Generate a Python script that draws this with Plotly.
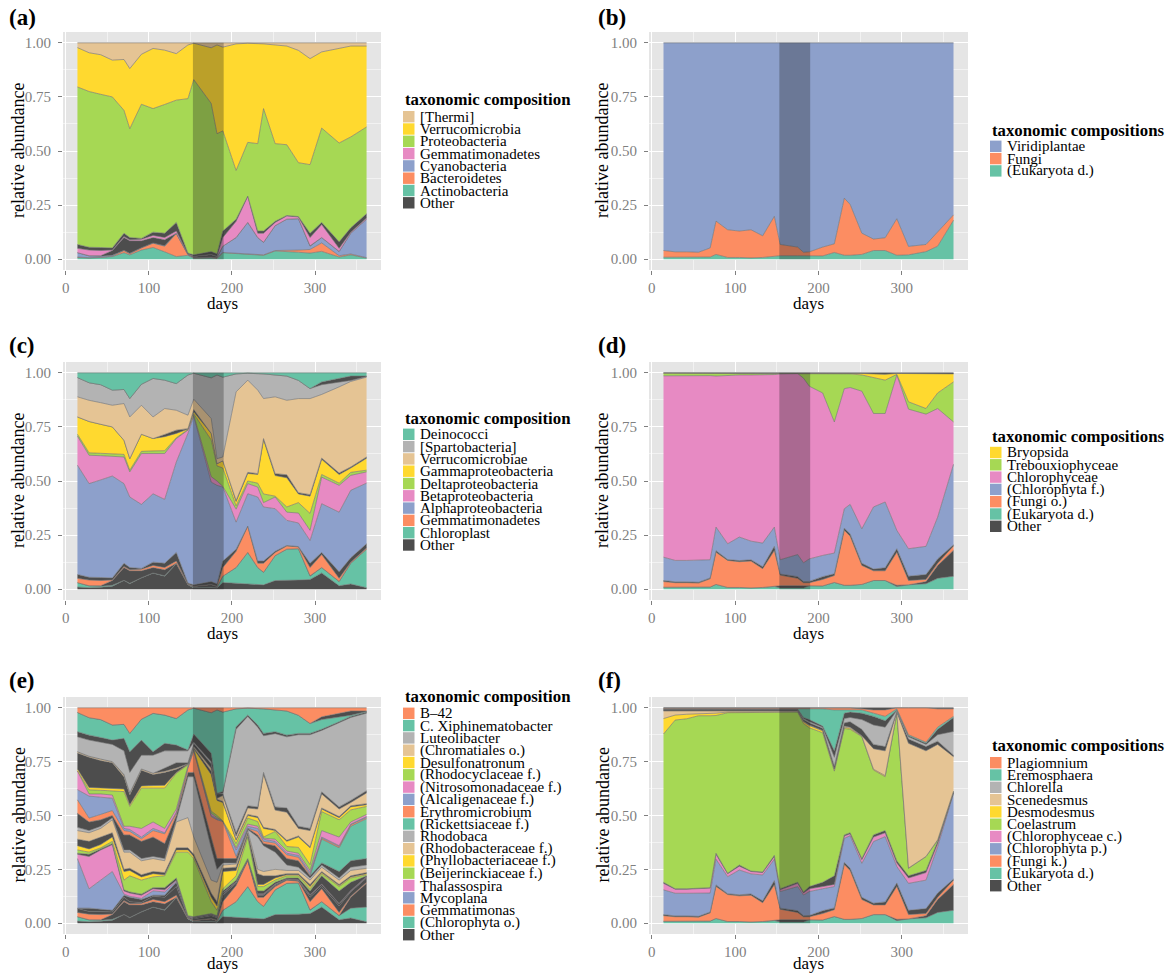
import numpy as np
import plotly.graph_objects as go

W, H = 1168, 974

# sampling days (x values)
DAYS = [14, 28, 42, 56, 70, 77, 91, 105, 119, 133, 147, 154, 175, 182, 189,
        205, 219, 231, 238, 252, 266, 280, 294, 308, 329, 343, 362]
SHADE_START, SHADE_END = 153, 190

TEAL = "#66C2A5"; ORANGE = "#FC8D62"; BLUE = "#8DA0CB"; PINK = "#E78AC3"
GREEN = "#A6D854"; YELLOW = "#FFD92F"; TAN = "#E5C494"; GREY = "#B3B3B3"
OTHER = "#4D4D4D"

# ---- every array below: upper edge of the stacked band (cumulative relative abundance) ----
TOP = [1.0, 1.0, 1.0, 1.0, 1.0, 1.0, 1.0, 1.0, 1.0, 1.0, 1.0, 1.0, 1.0, 1.0,
       1.0, 1.0, 1.0, 1.0, 1.0, 1.0, 1.0, 1.0, 1.0, 1.0, 1.0, 1.0, 1.0]

# (a) bacteria, phylum level
A_ACTINO = [0.008, 0.005, 0.008, 0.012, 0.030, 0.020, 0.042, 0.054, 0.034, 0.012, 0.018, 0.004, 0.005, 0.003, 0.030, 0.026, 0.022, 0.018, 0.018, 0.038, 0.036, 0.032, 0.028, 0.036, 0.010, 0.020, 0.005]
A_BACTER = [0.010, 0.007, 0.009, 0.014, 0.040, 0.025, 0.052, 0.074, 0.060, 0.118, 0.020, 0.006, 0.008, 0.005, 0.031, 0.028, 0.024, 0.020, 0.020, 0.040, 0.040, 0.042, 0.045, 0.075, 0.016, 0.024, 0.007]
A_CYANO = [0.030, 0.015, 0.014, 0.018, 0.041, 0.027, 0.053, 0.075, 0.062, 0.120, 0.022, 0.008, 0.010, 0.007, 0.060, 0.100, 0.170, 0.100, 0.078, 0.155, 0.185, 0.187, 0.060, 0.100, 0.035, 0.120, 0.185]
A_OTH_LO = [0.030, 0.016, 0.016, 0.040, 0.100, 0.085, 0.085, 0.100, 0.090, 0.120, 0.022, 0.012, 0.020, 0.012, 0.060, 0.100, 0.170, 0.100, 0.078, 0.155, 0.185, 0.187, 0.062, 0.100, 0.036, 0.120, 0.185]
A_GEMMA = [0.050, 0.042, 0.040, 0.043, 0.105, 0.090, 0.092, 0.110, 0.100, 0.130, 0.024, 0.014, 0.022, 0.014, 0.100, 0.175, 0.290, 0.120, 0.120, 0.170, 0.200, 0.195, 0.100, 0.160, 0.050, 0.125, 0.190]
A_OTH_HI = [0.068, 0.055, 0.054, 0.052, 0.120, 0.100, 0.096, 0.125, 0.120, 0.170, 0.028, 0.020, 0.035, 0.025, 0.130, 0.185, 0.292, 0.130, 0.130, 0.175, 0.202, 0.197, 0.120, 0.170, 0.080, 0.145, 0.210]
A_PROTEO = [0.796, 0.775, 0.762, 0.750, 0.688, 0.603, 0.716, 0.696, 0.715, 0.735, 0.742, 0.830, 0.720, 0.580, 0.593, 0.410, 0.540, 0.534, 0.696, 0.534, 0.529, 0.446, 0.437, 0.606, 0.537, 0.565, 0.611]
A_VERRUCO = [0.978, 0.954, 0.945, 0.920, 0.923, 0.881, 0.947, 0.974, 0.966, 0.950, 0.990, 0.998, 0.977, 0.990, 0.980, 0.995, 0.998, 0.998, 0.995, 0.990, 0.985, 0.965, 0.927, 0.958, 0.975, 0.985, 0.985]

# (b) eukaryota, kingdom level
B_EUK = [0.009, 0.009, 0.009, 0.008, 0.010, 0.022, 0.008, 0.008, 0.006, 0.008, 0.015, 0.016, 0.016, 0.016, 0.016, 0.015, 0.031, 0.018, 0.018, 0.022, 0.040, 0.040, 0.018, 0.020, 0.035, 0.060, 0.180]
B_FUNGI = [0.040, 0.034, 0.034, 0.032, 0.052, 0.176, 0.136, 0.130, 0.136, 0.108, 0.198, 0.068, 0.056, 0.032, 0.034, 0.056, 0.071, 0.282, 0.253, 0.120, 0.093, 0.099, 0.187, 0.059, 0.068, 0.125, 0.205]

# (c) bacteria, class level
C_OTH_1 = [0.010, 0.007, 0.009, 0.014, 0.040, 0.025, 0.052, 0.074, 0.060, 0.118, 0.020, 0.006, 0.008, 0.005, 0.031, 0.028, 0.024, 0.020, 0.020, 0.040, 0.040, 0.042, 0.045, 0.075, 0.016, 0.024, 0.007]
C_CHLORO = [0.030, 0.015, 0.014, 0.018, 0.041, 0.027, 0.053, 0.075, 0.062, 0.120, 0.022, 0.008, 0.010, 0.007, 0.060, 0.100, 0.170, 0.100, 0.078, 0.155, 0.185, 0.187, 0.060, 0.100, 0.035, 0.120, 0.185]
C_OTH_2 = [0.030, 0.016, 0.016, 0.040, 0.100, 0.085, 0.085, 0.100, 0.090, 0.120, 0.022, 0.012, 0.020, 0.012, 0.060, 0.100, 0.170, 0.100, 0.078, 0.155, 0.185, 0.187, 0.062, 0.100, 0.036, 0.120, 0.185]
C_GEMMA = [0.050, 0.042, 0.040, 0.043, 0.105, 0.090, 0.092, 0.110, 0.100, 0.130, 0.024, 0.014, 0.022, 0.014, 0.100, 0.175, 0.290, 0.120, 0.120, 0.170, 0.200, 0.195, 0.100, 0.160, 0.050, 0.125, 0.190]
C_OTH_3 = [0.068, 0.055, 0.054, 0.052, 0.120, 0.100, 0.096, 0.125, 0.120, 0.170, 0.028, 0.020, 0.035, 0.025, 0.130, 0.185, 0.292, 0.130, 0.130, 0.175, 0.202, 0.197, 0.120, 0.170, 0.080, 0.145, 0.210]
C_ALPHA = [0.573, 0.488, 0.505, 0.523, 0.488, 0.426, 0.392, 0.441, 0.415, 0.588, 0.720, 0.800, 0.495, 0.480, 0.472, 0.310, 0.441, 0.426, 0.380, 0.372, 0.318, 0.306, 0.225, 0.395, 0.356, 0.457, 0.490]
C_BETA = [0.707, 0.619, 0.617, 0.615, 0.611, 0.542, 0.627, 0.627, 0.627, 0.696, 0.735, 0.805, 0.520, 0.500, 0.475, 0.370, 0.488, 0.472, 0.400, 0.426, 0.356, 0.352, 0.272, 0.518, 0.480, 0.526, 0.542]
C_DELTA = [0.716, 0.630, 0.628, 0.627, 0.623, 0.550, 0.637, 0.639, 0.640, 0.700, 0.738, 0.810, 0.690, 0.570, 0.560, 0.385, 0.500, 0.490, 0.440, 0.430, 0.380, 0.400, 0.350, 0.530, 0.490, 0.540, 0.550]
C_GAMMA = [0.796, 0.775, 0.762, 0.750, 0.688, 0.603, 0.716, 0.696, 0.705, 0.720, 0.740, 0.820, 0.720, 0.580, 0.593, 0.405, 0.535, 0.530, 0.690, 0.525, 0.515, 0.440, 0.430, 0.600, 0.530, 0.560, 0.605]
C_OTH_4 = [0.796, 0.775, 0.762, 0.750, 0.688, 0.603, 0.716, 0.696, 0.715, 0.735, 0.742, 0.830, 0.720, 0.580, 0.593, 0.410, 0.540, 0.534, 0.696, 0.534, 0.529, 0.446, 0.437, 0.606, 0.537, 0.565, 0.611]
C_VERRUCO = [0.889, 0.873, 0.862, 0.850, 0.858, 0.796, 0.850, 0.796, 0.835, 0.827, 0.804, 0.878, 0.789, 0.603, 0.611, 0.912, 0.966, 0.920, 0.881, 0.889, 0.873, 0.881, 0.881, 0.900, 0.935, 0.960, 0.980]
C_SPARTO = [0.978, 0.954, 0.945, 0.920, 0.923, 0.881, 0.947, 0.974, 0.966, 0.950, 0.990, 0.998, 0.977, 0.990, 0.980, 0.995, 0.998, 0.998, 0.995, 0.990, 0.985, 0.965, 0.927, 0.945, 0.955, 0.965, 0.983]
C_OTH_5 = [0.978, 0.954, 0.945, 0.920, 0.923, 0.881, 0.947, 0.974, 0.966, 0.950, 0.990, 0.998, 0.977, 0.990, 0.980, 0.995, 0.998, 0.998, 0.995, 0.990, 0.985, 0.965, 0.927, 0.958, 0.975, 0.985, 0.985]

# (d) eukaryota, class level
D_EUK = [0.009, 0.009, 0.009, 0.008, 0.010, 0.022, 0.008, 0.008, 0.006, 0.008, 0.012, 0.006, 0.006, 0.006, 0.016, 0.015, 0.031, 0.018, 0.018, 0.022, 0.040, 0.040, 0.012, 0.020, 0.025, 0.050, 0.060]
D_OTH_1 = [0.009, 0.009, 0.009, 0.008, 0.010, 0.022, 0.008, 0.008, 0.006, 0.008, 0.015, 0.016, 0.016, 0.016, 0.016, 0.015, 0.031, 0.018, 0.018, 0.022, 0.040, 0.040, 0.018, 0.020, 0.035, 0.110, 0.180]
D_FUNGI = [0.035, 0.030, 0.030, 0.028, 0.048, 0.171, 0.133, 0.127, 0.130, 0.095, 0.179, 0.065, 0.050, 0.030, 0.030, 0.045, 0.063, 0.272, 0.245, 0.110, 0.085, 0.085, 0.171, 0.040, 0.045, 0.120, 0.200]
D_OTH_2 = [0.040, 0.034, 0.034, 0.032, 0.052, 0.178, 0.137, 0.132, 0.136, 0.104, 0.198, 0.070, 0.058, 0.035, 0.036, 0.058, 0.071, 0.282, 0.255, 0.120, 0.093, 0.099, 0.187, 0.060, 0.068, 0.140, 0.205]
D_CHLOROPHYTA = [0.148, 0.133, 0.133, 0.133, 0.136, 0.287, 0.210, 0.241, 0.222, 0.213, 0.287, 0.136, 0.160, 0.122, 0.140, 0.156, 0.167, 0.372, 0.392, 0.279, 0.380, 0.403, 0.272, 0.187, 0.198, 0.333, 0.577]
D_CHLOROPHYCEAE = [0.986, 0.987, 0.987, 0.987, 0.987, 0.985, 0.988, 0.990, 0.990, 0.990, 0.992, 0.995, 0.997, 0.975, 0.938, 0.907, 0.773, 0.927, 0.932, 0.915, 0.812, 0.812, 0.990, 0.832, 0.809, 0.835, 0.773]
D_TREBOUX = [0.998, 0.998, 0.998, 0.998, 0.998, 0.997, 0.998, 0.998, 0.998, 0.998, 0.998, 0.998, 0.998, 0.998, 0.998, 0.998, 0.998, 0.998, 0.995, 0.990, 0.977, 0.966, 0.993, 0.866, 0.835, 0.907, 0.958]
D_BRYO = [0.999, 0.999, 0.999, 0.999, 0.999, 0.998, 0.999, 0.999, 0.999, 0.999, 0.999, 0.999, 0.999, 0.999, 0.999, 0.999, 0.999, 0.999, 0.997, 0.997, 0.995, 0.993, 0.997, 0.997, 0.997, 0.998, 0.995]

# (e) bacteria, genus level
E_OTH_1 = [0.010, 0.007, 0.009, 0.014, 0.040, 0.025, 0.052, 0.074, 0.060, 0.118, 0.020, 0.006, 0.008, 0.005, 0.031, 0.028, 0.024, 0.020, 0.020, 0.040, 0.040, 0.042, 0.045, 0.075, 0.016, 0.024, 0.007]
E_CHLOROPHYTA = [0.030, 0.015, 0.014, 0.018, 0.041, 0.027, 0.053, 0.075, 0.062, 0.120, 0.022, 0.008, 0.010, 0.007, 0.060, 0.100, 0.170, 0.100, 0.078, 0.155, 0.185, 0.187, 0.060, 0.100, 0.035, 0.070, 0.075]
E_OTH_2 = [0.030, 0.016, 0.016, 0.040, 0.100, 0.085, 0.085, 0.100, 0.090, 0.120, 0.022, 0.012, 0.020, 0.012, 0.060, 0.100, 0.170, 0.100, 0.078, 0.155, 0.185, 0.187, 0.062, 0.100, 0.036, 0.120, 0.185]
E_GEMMATIMONAS = [0.050, 0.042, 0.040, 0.043, 0.105, 0.090, 0.092, 0.110, 0.100, 0.130, 0.024, 0.014, 0.022, 0.014, 0.100, 0.175, 0.290, 0.120, 0.120, 0.170, 0.200, 0.195, 0.100, 0.160, 0.050, 0.125, 0.190]
E_OTH_3 = [0.068, 0.055, 0.054, 0.052, 0.120, 0.100, 0.096, 0.125, 0.120, 0.170, 0.028, 0.020, 0.035, 0.025, 0.130, 0.185, 0.292, 0.130, 0.130, 0.175, 0.202, 0.197, 0.120, 0.170, 0.080, 0.145, 0.210]
E_OTH_4 = [0.070, 0.070, 0.065, 0.060, 0.130, 0.120, 0.110, 0.130, 0.130, 0.190, 0.030, 0.025, 0.040, 0.030, 0.140, 0.190, 0.295, 0.135, 0.135, 0.180, 0.205, 0.200, 0.130, 0.180, 0.090, 0.150, 0.215]
E_MYCOPLANA = [0.300, 0.160, 0.200, 0.240, 0.135, 0.125, 0.115, 0.150, 0.145, 0.195, 0.030, 0.025, 0.040, 0.030, 0.140, 0.190, 0.295, 0.135, 0.135, 0.180, 0.205, 0.200, 0.130, 0.180, 0.090, 0.150, 0.215]
E_THALASSOSPIRA = [0.320, 0.310, 0.340, 0.365, 0.150, 0.140, 0.130, 0.160, 0.155, 0.200, 0.032, 0.027, 0.042, 0.032, 0.142, 0.192, 0.297, 0.137, 0.137, 0.182, 0.207, 0.202, 0.132, 0.182, 0.092, 0.152, 0.217]
E_OTH_5 = [0.325, 0.320, 0.345, 0.370, 0.155, 0.145, 0.135, 0.165, 0.165, 0.210, 0.035, 0.030, 0.045, 0.035, 0.150, 0.200, 0.300, 0.150, 0.150, 0.190, 0.210, 0.210, 0.150, 0.220, 0.150, 0.190, 0.220]
E_BEIJERINCK = [0.340, 0.330, 0.350, 0.380, 0.200, 0.220, 0.200, 0.215, 0.220, 0.330, 0.330, 0.300, 0.100, 0.060, 0.160, 0.220, 0.400, 0.170, 0.170, 0.200, 0.220, 0.220, 0.160, 0.230, 0.170, 0.210, 0.225]
E_PHYLLO = [0.360, 0.345, 0.365, 0.400, 0.240, 0.245, 0.215, 0.230, 0.225, 0.340, 0.340, 0.310, 0.120, 0.080, 0.240, 0.245, 0.410, 0.180, 0.180, 0.210, 0.225, 0.225, 0.170, 0.235, 0.175, 0.215, 0.230]
E_OTH_6 = [0.390, 0.380, 0.400, 0.420, 0.250, 0.255, 0.225, 0.240, 0.235, 0.350, 0.350, 0.320, 0.140, 0.100, 0.255, 0.260, 0.420, 0.230, 0.220, 0.220, 0.230, 0.230, 0.180, 0.240, 0.180, 0.220, 0.235]
E_RHODOBACTERACEAE = [0.430, 0.420, 0.440, 0.480, 0.330, 0.330, 0.290, 0.300, 0.290, 0.470, 0.490, 0.400, 0.200, 0.190, 0.270, 0.275, 0.430, 0.250, 0.240, 0.250, 0.245, 0.245, 0.200, 0.260, 0.200, 0.245, 0.255]
E_RHODOBACA = [0.445, 0.430, 0.450, 0.490, 0.340, 0.340, 0.300, 0.310, 0.300, 0.480, 0.680, 0.680, 0.350, 0.250, 0.280, 0.280, 0.435, 0.400, 0.360, 0.330, 0.270, 0.260, 0.210, 0.270, 0.210, 0.260, 0.270]
E_OTH_7 = [0.510, 0.470, 0.480, 0.500, 0.410, 0.410, 0.380, 0.400, 0.370, 0.500, 0.700, 0.700, 0.400, 0.300, 0.300, 0.300, 0.440, 0.410, 0.370, 0.360, 0.300, 0.290, 0.220, 0.280, 0.240, 0.290, 0.300]
E_RICKETTSIACEAE = [0.510, 0.470, 0.480, 0.500, 0.410, 0.410, 0.380, 0.400, 0.370, 0.500, 0.700, 0.700, 0.400, 0.300, 0.300, 0.300, 0.440, 0.410, 0.370, 0.360, 0.300, 0.290, 0.220, 0.390, 0.350, 0.450, 0.485]
E_ERYTHRO = [0.573, 0.488, 0.505, 0.523, 0.430, 0.426, 0.392, 0.430, 0.415, 0.510, 0.720, 0.800, 0.495, 0.480, 0.472, 0.310, 0.441, 0.426, 0.380, 0.372, 0.318, 0.306, 0.225, 0.395, 0.356, 0.457, 0.490]
E_ALCALI = [0.620, 0.590, 0.585, 0.580, 0.440, 0.435, 0.400, 0.440, 0.420, 0.515, 0.725, 0.805, 0.500, 0.485, 0.475, 0.340, 0.450, 0.440, 0.390, 0.380, 0.325, 0.315, 0.235, 0.400, 0.360, 0.460, 0.495]
E_NITROSO = [0.707, 0.600, 0.600, 0.595, 0.450, 0.450, 0.440, 0.470, 0.440, 0.530, 0.730, 0.807, 0.510, 0.490, 0.475, 0.350, 0.460, 0.450, 0.395, 0.390, 0.335, 0.325, 0.245, 0.430, 0.400, 0.470, 0.505]
E_RHODOCYC = [0.707, 0.619, 0.617, 0.615, 0.611, 0.542, 0.627, 0.627, 0.627, 0.696, 0.735, 0.810, 0.520, 0.500, 0.475, 0.370, 0.488, 0.472, 0.400, 0.426, 0.356, 0.352, 0.272, 0.518, 0.480, 0.526, 0.542]
E_DESULFO = [0.716, 0.630, 0.628, 0.627, 0.623, 0.550, 0.637, 0.639, 0.640, 0.700, 0.738, 0.810, 0.690, 0.570, 0.560, 0.385, 0.500, 0.490, 0.440, 0.430, 0.380, 0.400, 0.350, 0.530, 0.490, 0.540, 0.550]
E_OTH_8 = [0.790, 0.770, 0.755, 0.745, 0.680, 0.595, 0.710, 0.690, 0.700, 0.715, 0.739, 0.815, 0.705, 0.575, 0.565, 0.390, 0.505, 0.495, 0.445, 0.435, 0.385, 0.405, 0.355, 0.535, 0.495, 0.545, 0.555]
E_CHROMATIALES = [0.796, 0.775, 0.762, 0.750, 0.688, 0.603, 0.716, 0.696, 0.705, 0.720, 0.740, 0.820, 0.720, 0.580, 0.593, 0.405, 0.535, 0.530, 0.690, 0.525, 0.515, 0.440, 0.430, 0.600, 0.530, 0.560, 0.605]
E_OTH_9 = [0.796, 0.775, 0.762, 0.750, 0.690, 0.605, 0.716, 0.696, 0.720, 0.745, 0.745, 0.835, 0.740, 0.600, 0.600, 0.420, 0.545, 0.540, 0.700, 0.540, 0.535, 0.450, 0.440, 0.610, 0.540, 0.570, 0.615]
E_LUTEO = [0.865, 0.850, 0.840, 0.830, 0.800, 0.700, 0.780, 0.780, 0.800, 0.800, 0.800, 0.840, 0.750, 0.600, 0.605, 0.900, 0.960, 0.910, 0.870, 0.880, 0.865, 0.875, 0.875, 0.895, 0.930, 0.955, 0.975]
E_OTH_10 = [0.889, 0.873, 0.862, 0.850, 0.858, 0.796, 0.850, 0.796, 0.835, 0.827, 0.804, 0.878, 0.789, 0.603, 0.611, 0.912, 0.966, 0.920, 0.881, 0.889, 0.873, 0.881, 0.881, 0.900, 0.935, 0.960, 0.980]
E_XIPHI = [0.978, 0.954, 0.945, 0.920, 0.923, 0.881, 0.947, 0.974, 0.966, 0.950, 0.990, 0.998, 0.977, 0.990, 0.980, 0.995, 0.998, 0.998, 0.995, 0.990, 0.985, 0.965, 0.927, 0.945, 0.955, 0.965, 0.983]
E_OTH_11 = [0.978, 0.954, 0.945, 0.920, 0.923, 0.881, 0.947, 0.974, 0.966, 0.950, 0.990, 0.998, 0.977, 0.990, 0.980, 0.995, 0.998, 0.998, 0.995, 0.990, 0.985, 0.965, 0.927, 0.958, 0.975, 0.985, 0.985]

# (f) eukaryota, genus level
F_EUK = [0.009, 0.009, 0.009, 0.008, 0.010, 0.022, 0.008, 0.008, 0.006, 0.008, 0.012, 0.006, 0.006, 0.006, 0.016, 0.015, 0.031, 0.018, 0.018, 0.022, 0.040, 0.040, 0.012, 0.020, 0.025, 0.050, 0.060]
F_OTH_1 = [0.009, 0.009, 0.009, 0.008, 0.010, 0.022, 0.008, 0.008, 0.006, 0.008, 0.015, 0.016, 0.016, 0.016, 0.016, 0.015, 0.031, 0.018, 0.018, 0.022, 0.040, 0.040, 0.018, 0.020, 0.035, 0.110, 0.180]
F_FUNGI = [0.035, 0.030, 0.030, 0.028, 0.048, 0.171, 0.133, 0.127, 0.130, 0.095, 0.179, 0.065, 0.050, 0.030, 0.030, 0.045, 0.063, 0.272, 0.245, 0.110, 0.085, 0.085, 0.171, 0.040, 0.045, 0.120, 0.200]
F_OTH_2 = [0.040, 0.034, 0.034, 0.032, 0.052, 0.178, 0.137, 0.132, 0.136, 0.104, 0.198, 0.070, 0.058, 0.035, 0.036, 0.058, 0.071, 0.282, 0.255, 0.120, 0.093, 0.099, 0.187, 0.060, 0.068, 0.140, 0.205]
F_CHLOROPHYTA = [0.155, 0.139, 0.139, 0.140, 0.140, 0.297, 0.216, 0.247, 0.229, 0.224, 0.297, 0.147, 0.170, 0.131, 0.147, 0.160, 0.170, 0.394, 0.406, 0.278, 0.379, 0.402, 0.263, 0.185, 0.200, 0.355, 0.603]
F_CHLOROPHYCEAE = [0.185, 0.158, 0.158, 0.160, 0.163, 0.320, 0.230, 0.265, 0.240, 0.235, 0.310, 0.155, 0.185, 0.140, 0.160, 0.170, 0.180, 0.405, 0.415, 0.295, 0.400, 0.420, 0.280, 0.210, 0.235, 0.370, 0.605]
F_OTH_3 = [0.190, 0.160, 0.160, 0.162, 0.165, 0.325, 0.232, 0.270, 0.242, 0.238, 0.315, 0.160, 0.190, 0.145, 0.170, 0.190, 0.220, 0.410, 0.420, 0.300, 0.410, 0.430, 0.290, 0.220, 0.245, 0.380, 0.610]
F_COELASTRUM = [0.878, 0.943, 0.949, 0.963, 0.963, 0.964, 0.977, 0.978, 0.978, 0.978, 0.979, 0.980, 0.980, 0.927, 0.907, 0.884, 0.706, 0.904, 0.900, 0.866, 0.711, 0.680, 0.974, 0.255, 0.309, 0.386, 0.612]
F_DESMO = [0.950, 0.966, 0.970, 0.972, 0.972, 0.975, 0.980, 0.980, 0.980, 0.980, 0.982, 0.982, 0.982, 0.935, 0.917, 0.893, 0.715, 0.910, 0.905, 0.868, 0.715, 0.685, 0.975, 0.256, 0.310, 0.387, 0.613]
F_SCENED = [0.985, 0.985, 0.985, 0.985, 0.985, 0.985, 0.985, 0.985, 0.985, 0.985, 0.985, 0.985, 0.985, 0.937, 0.920, 0.895, 0.716, 0.915, 0.910, 0.870, 0.810, 0.800, 0.980, 0.835, 0.800, 0.830, 0.773]
F_OTH_4 = [0.990, 0.990, 0.990, 0.990, 0.990, 0.990, 0.990, 0.990, 0.990, 0.990, 0.990, 0.990, 0.990, 0.945, 0.930, 0.905, 0.730, 0.930, 0.935, 0.900, 0.830, 0.820, 0.983, 0.855, 0.820, 0.845, 0.780]
F_CHLORELLA = [0.991, 0.991, 0.991, 0.991, 0.991, 0.991, 0.991, 0.991, 0.991, 0.991, 0.991, 0.991, 0.991, 0.950, 0.935, 0.910, 0.770, 0.950, 0.955, 0.945, 0.920, 0.910, 0.988, 0.865, 0.830, 0.875, 0.890]
F_OTH_5 = [0.995, 0.995, 0.995, 0.995, 0.995, 0.995, 0.995, 0.995, 0.995, 0.995, 0.995, 0.995, 0.995, 0.955, 0.945, 0.915, 0.800, 0.975, 0.980, 0.975, 0.960, 0.940, 0.990, 0.870, 0.835, 0.900, 0.955]
F_EREMO = [0.997, 0.997, 0.997, 0.997, 0.997, 0.997, 0.997, 0.997, 0.997, 0.997, 0.997, 0.997, 0.998, 0.995, 0.995, 0.995, 0.990, 0.990, 0.990, 0.990, 0.975, 0.960, 0.995, 0.875, 0.840, 0.910, 0.960]
F_PLAGIO = [0.999, 0.999, 0.999, 0.999, 0.999, 0.999, 0.999, 0.999, 0.999, 0.999, 0.999, 0.999, 0.999, 0.999, 0.999, 0.999, 0.999, 0.999, 0.999, 0.995, 0.990, 0.990, 1.000, 1.000, 1.000, 0.995, 0.995]

# ---- panel definitions: layers bottom -> top, legend entries top -> bottom ----
PANELS = [
    dict(letter="(a)", col=0, row=0, title="taxonomic composition",
         layers=[(A_ACTINO, TEAL), (A_BACTER, ORANGE), (A_CYANO, BLUE), (A_OTH_LO, OTHER),
                 (A_GEMMA, PINK), (A_OTH_HI, OTHER), (A_PROTEO, GREEN), (A_VERRUCO, YELLOW), (TOP, TAN)],
         legend=[("[Thermi]", TAN), ("Verrucomicrobia", YELLOW), ("Proteobacteria", GREEN),
                 ("Gemmatimonadetes", PINK), ("Cyanobacteria", BLUE), ("Bacteroidetes", ORANGE),
                 ("Actinobacteria", TEAL), ("Other", OTHER)],
         leg_title_y=100, leg_first_y=116.7),
    dict(letter="(b)", col=1, row=0, title="taxonomic compositions",
         layers=[(B_EUK, TEAL), (B_FUNGI, ORANGE), (TOP, BLUE)],
         legend=[("Viridiplantae", BLUE), ("Fungi", ORANGE), ("(Eukaryota d.)", TEAL)],
         leg_title_y=130, leg_first_y=146.3),
    dict(letter="(c)", col=0, row=1, title="taxonomic composition",
         layers=[(C_OTH_1, OTHER), (C_CHLORO, TEAL), (C_OTH_2, OTHER), (C_GEMMA, ORANGE),
                 (C_OTH_3, OTHER), (C_ALPHA, BLUE), (C_BETA, PINK), (C_DELTA, GREEN),
                 (C_GAMMA, YELLOW), (C_OTH_4, OTHER), (C_VERRUCO, TAN), (C_SPARTO, GREY),
                 (C_OTH_5, OTHER), (TOP, TEAL)],
         legend=[("Deinococci", TEAL), ("[Spartobacteria]", GREY), ("Verrucomicrobiae", TAN),
                 ("Gammaproteobacteria", YELLOW), ("Deltaproteobacteria", GREEN),
                 ("Betaproteobacteria", PINK), ("Alphaproteobacteria", BLUE),
                 ("Gemmatimonadetes", ORANGE), ("Chloroplast", TEAL), ("Other", OTHER)],
         leg_title_y=418.3, leg_first_y=434.3),
    dict(letter="(d)", col=1, row=1, title="taxonomic compositions",
         layers=[(D_EUK, TEAL), (D_OTH_1, OTHER), (D_FUNGI, ORANGE), (D_OTH_2, OTHER),
                 (D_CHLOROPHYTA, BLUE), (D_CHLOROPHYCEAE, PINK), (D_TREBOUX, GREEN),
                 (D_BRYO, YELLOW), (TOP, OTHER)],
         legend=[("Bryopsida", YELLOW), ("Trebouxiophyceae", GREEN), ("Chlorophyceae", PINK),
                 ("(Chlorophyta f.)", BLUE), ("(Fungi o.)", ORANGE), ("(Eukaryota d.)", TEAL),
                 ("Other", OTHER)],
         leg_title_y=437, leg_first_y=452.5),
    dict(letter="(e)", col=0, row=2, title="taxonomic composition",
         layers=[(E_OTH_1, OTHER), (E_CHLOROPHYTA, TEAL), (E_OTH_2, OTHER), (E_GEMMATIMONAS, ORANGE),
                 (E_OTH_3, OTHER), (E_OTH_4, OTHER), (E_MYCOPLANA, BLUE), (E_THALASSOSPIRA, PINK),
                 (E_OTH_5, OTHER), (E_BEIJERINCK, GREEN), (E_PHYLLO, YELLOW), (E_OTH_6, OTHER),
                 (E_RHODOBACTERACEAE, TAN), (E_RHODOBACA, GREY), (E_OTH_7, OTHER),
                 (E_RICKETTSIACEAE, TEAL), (E_ERYTHRO, ORANGE), (E_ALCALI, BLUE), (E_NITROSO, PINK),
                 (E_RHODOCYC, GREEN), (E_DESULFO, YELLOW), (E_OTH_8, OTHER), (E_CHROMATIALES, TAN),
                 (E_OTH_9, OTHER), (E_LUTEO, GREY), (E_OTH_10, OTHER), (E_XIPHI, TEAL),
                 (E_OTH_11, OTHER), (TOP, ORANGE)],
         legend=[("B\u201342", ORANGE), ("C. Xiphinematobacter", TEAL), ("Luteolibacter", GREY),
                 ("(Chromatiales o.)", TAN), ("Desulfonatronum", YELLOW), ("(Rhodocyclaceae f.)", GREEN),
                 ("(Nitrosomonadaceae f.)", PINK), ("(Alcaligenaceae f.)", BLUE),
                 ("Erythromicrobium", ORANGE), ("(Rickettsiaceae f.)", TEAL), ("Rhodobaca", GREY),
                 ("(Rhodobacteraceae f.)", TAN), ("(Phyllobacteriaceae f.)", YELLOW),
                 ("(Beijerinckiaceae f.)", GREEN), ("Thalassospira", PINK), ("Mycoplana", BLUE),
                 ("Gemmatimonas", ORANGE), ("(Chlorophyta o.)", TEAL), ("Other", OTHER)],
         leg_title_y=696, leg_first_y=713.3),
    dict(letter="(f)", col=1, row=2, title="taxonomic compositions",
         layers=[(F_EUK, TEAL), (F_OTH_1, OTHER), (F_FUNGI, ORANGE), (F_OTH_2, OTHER),
                 (F_CHLOROPHYTA, BLUE), (F_CHLOROPHYCEAE, PINK), (F_OTH_3, OTHER),
                 (F_COELASTRUM, GREEN), (F_DESMO, YELLOW), (F_SCENED, TAN), (F_OTH_4, OTHER),
                 (F_CHLORELLA, GREY), (F_OTH_5, OTHER), (F_EREMO, TEAL), (F_PLAGIO, ORANGE),
                 (TOP, OTHER)],
         legend=[("Plagiomnium", ORANGE), ("Eremosphaera", TEAL), ("Chlorella", GREY),
                 ("Scenedesmus", TAN), ("Desmodesmus", YELLOW), ("Coelastrum", GREEN),
                 ("(Chlorophyceae c.)", PINK), ("(Chlorophyta p.)", BLUE), ("(Fungi k.)", ORANGE),
                 ("(Eukaryota d.)", TEAL), ("Other", OTHER)],
         leg_title_y=745, leg_first_y=762.7),
]

# ---- geometry (pixels) ----
COL_X = [(63, 381), (649, 968)]
ROW_Y = [(32, 270), (362, 600), (697, 934)]
YTITLE_X = [18, 602]
LETTER_X = [7, 596]
LETTER_Y = [18, 345, 680]
DAYS_Y = [303, 633, 963]
LEGEND_X = [403, 990]
LEG_STEP = 12.3

FONT = "Liberation Serif, DejaVu Serif, serif"
TICK_GREY = "#7F7F7F"

def px(x):
    return x / W

def py(y):
    return 1 - y / H

fig = go.Figure()
layout = dict(width=W, height=H, margin=dict(l=0, r=0, t=0, b=0),
              plot_bgcolor="#E5E5E5", paper_bgcolor="white", showlegend=False,
              font=dict(family=FONT, color="black"))
shapes, annotations = [], []

for i, p in enumerate(PANELS):
    s = "" if i == 0 else str(i + 1)
    xa, ya = "x" + s, "y" + s
    x0, x1 = COL_X[p["col"]]
    y0, y1 = ROW_Y[p["row"]]

    tops = np.maximum.accumulate(np.array([l[0] for l in p["layers"]], dtype=float), axis=0)
    for k, (arr, color) in enumerate(p["layers"]):
        fig.add_trace(go.Scatter(
            x=DAYS, y=tops[k], mode="lines", xaxis=xa, yaxis=ya,
            fill="tozeroy" if k == 0 else "tonexty", fillcolor=color,
            line=dict(color="#6E6E6E", width=0.6), hoverinfo="skip"))

    layout["xaxis" + s] = dict(
        domain=[px(x0), px(x1)], anchor=ya, range=[-3.4, 379.4],
        tickvals=[0, 100, 200, 300], ticktext=["0", "100", "200", "300"],
        ticks="outside", ticklen=4, tickwidth=1, tickcolor=TICK_GREY,
        tickfont=dict(family=FONT, size=15, color=TICK_GREY), ticklabelstandoff=0,
        showgrid=True, gridcolor="white", gridwidth=1.2, zeroline=False, showline=False,
        minor=dict(tickvals=[50, 150, 250, 350], showgrid=True, gridcolor="#F2F2F2",
                   gridwidth=0.6, ticks=""))
    layout["yaxis" + s] = dict(
        domain=[py(y1), py(y0)], anchor=xa, range=[-0.05, 1.05],
        tickvals=[0, 0.25, 0.5, 0.75, 1.0], ticktext=["0.00", "0.25", "0.50", "0.75", "1.00"],
        ticks="outside", ticklen=4, tickwidth=1, tickcolor=TICK_GREY,
        tickfont=dict(family=FONT, size=15, color=TICK_GREY), ticklabelstandoff=4,
        showgrid=True, gridcolor="white", gridwidth=1.2, zeroline=False, showline=False,
        minor=dict(tickvals=[0.125, 0.375, 0.625, 0.875], showgrid=True,
                   gridcolor="#F2F2F2", gridwidth=0.6, ticks=""))

    # shaded period
    shapes.append(dict(type="rect", xref=xa, yref=ya, x0=SHADE_START, x1=SHADE_END,
                       y0=0, y1=1, fillcolor="rgba(30,30,30,0.30)", line=dict(width=0),
                       layer="above"))

    # panel letter
    annotations.append(dict(text="<b>%s</b>" % p["letter"], x=px(LETTER_X[p["col"]]),
                            y=py(LETTER_Y[p["row"]]), xref="paper", yref="paper",
                            xanchor="left", yanchor="middle", showarrow=False,
                            font=dict(family=FONT, size=23, color="black")))
    # axis titles
    annotations.append(dict(text="relative abundance", textangle=-90,
                            x=px(YTITLE_X[p["col"]]), y=py((y0 + y1) / 2),
                            xref="paper", yref="paper", xanchor="center", yanchor="middle",
                            showarrow=False, font=dict(family=FONT, size=18, color="black")))
    annotations.append(dict(text="days", x=px((x0 + x1) / 2), y=py(DAYS_Y[p["row"]]),
                            xref="paper", yref="paper", xanchor="center", yanchor="middle",
                            showarrow=False, font=dict(family=FONT, size=17, color="black")))

    # legend (drawn as keys + text)
    lx = LEGEND_X[p["col"]]
    annotations.append(dict(text="<b>%s</b>" % p["title"], x=px(lx), y=py(p["leg_title_y"]),
                            xref="paper", yref="paper", xanchor="left", yanchor="middle",
                            showarrow=False, font=dict(family=FONT, size=16.8, color="black")))
    for j, (label, color) in enumerate(p["legend"]):
        cy = p["leg_first_y"] + j * LEG_STEP
        shapes.append(dict(type="rect", xref="paper", yref="paper",
                           x0=px(lx), x1=px(lx + 11.5), y0=py(cy + 5.7), y1=py(cy - 5.7),
                           fillcolor=color, line=dict(width=0)))
        annotations.append(dict(text=label, x=px(lx + 14.5), y=py(cy), xref="paper",
                                yref="paper", xanchor="left", yanchor="middle",
                                showarrow=False,
                                font=dict(family=FONT, size=15, color="black")))

layout["shapes"] = shapes
layout["annotations"] = annotations
fig.update_layout(**layout)
fig.write_html("out.html", config={"displayModeBar": False},
               post_script="document.body.style.margin='0px';document.body.style.padding='0px';")
